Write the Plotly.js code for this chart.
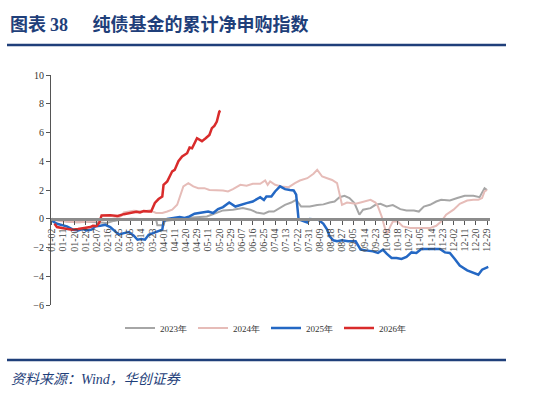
<!DOCTYPE html>
<html><head><meta charset="utf-8">
<script src="https://cdn.plot.ly/plotly-3.0.1.min.js"></script>
<style>html,body{margin:0;padding:0;background:#fff;}#chart{width:537px;height:402px;}</style>
</head><body><div id="chart"></div>
<script>
// tick labels (every 9th trading-day index)
const tickLabels = ["01-02","01-11","01-20","01-29","02-07","02-16","02-25","03-05","03-14","03-23",
 "04-01","04-11","04-20","04-29","05-11","05-20","05-29","06-07","06-16","06-25",
 "07-04","07-13","07-22","07-31","08-09","08-18","08-27","09-05","09-14","09-23",
 "10-09","10-18","10-27","11-05","11-14","11-23","12-02","12-11","12-20","12-29"];
const tickIdx = tickLabels.map((_, i) => i * 9);

// 2023
const x2023 = [0,5,12,20,28,36,44,50,56,64,72,80,84,85,90,91,96,100,106,111,125,133,138,146,154,160,165,171,175,179,184,188,193,197,201,208,214,219,224,228,232,236,240,244,248,251,257,261,265,270,275,281,286,292,296,300,305,310,314,321,327,333,340,345,349,351];
const y2023 = [0,-0.1,-0.2,-0.25,-0.2,-0.25,-0.3,-0.15,-0.05,0,-0.02,-0.05,-0.05,-0.45,-0.45,-0.15,-0.1,-0.05,-0.07,0.07,0.16,0.4,0.58,0.63,0.74,0.63,0.44,0.35,0.5,0.5,0.74,0.97,1.13,1.32,0.85,0.85,0.95,1.0,1.13,1.2,1.5,1.6,1.44,1.09,0.28,0.63,0.74,0.97,1.04,0.85,0.95,0.67,0.58,0.58,0.5,0.85,0.97,1.2,1.32,1.27,1.44,1.6,1.6,1.5,2.13,2.0];

// 2024
const x2024 = [0,6,14,22,30,38,46,52,56,58,66,74,79,84,89,93,97,101,103,106,110,114,118,123,127,133,138,142,146,152,157,162,168,172,174,176,180,185,191,196,200,206,211,214,218,222,226,230,232,234,238,245,249,257,261,263,266,268,270,273,275,279,283,289,300,305,310,314,318,324,329,335,340,344,347,349,351];
const y2024 = [-0.05,-0.15,-0.2,-0.25,-0.2,-0.15,-0.05,0.05,0.2,0.44,0.55,0.5,0.58,0.4,0.4,0.5,0.63,0.97,1.55,2.25,2.48,2.25,2.13,2.13,2.0,2.0,1.97,1.9,2.06,2.36,2.3,2.43,2.43,2.66,2.36,2.6,2.36,2.25,2.2,2.48,2.66,2.82,3.13,3.4,2.94,2.82,2.7,2.48,1.78,0.97,1.13,1.04,1.13,1.32,1.13,0.85,0.16,-0.53,-1.1,-0.53,-0.19,-0.19,-0.53,-0.65,-0.65,-0.65,-0.49,-0.19,0.28,0.63,1.04,1.27,1.32,1.32,1.44,1.9,2.0];

// 2025
const x2025 = [0,1,4,8,12,17,21,25,28,32,35,39,43,47,51,54,58,62,66,69,72,75,78,82,86,89,90,93,98,103,107,111,115,121,126,130,134,138,143,148,152,157,162,168,171,173,177,180,184,188,192,195,197,199,200,203,206,208,215,219,222,224,227,230,234,239,245,249,254,259,263,267,270,274,278,282,286,290,294,298,305,313,317,321,325,329,335,340,344,347,352];
const y2025 = [-0.07,-0.19,-0.35,-0.42,-0.53,-0.76,-0.81,-0.72,-0.81,-0.76,-0.53,-0.49,-0.42,-0.58,-0.88,-1.11,-1.0,-0.92,-1.18,-1.46,-1.41,-1.46,-1.11,-1.0,-0.88,-0.76,-0.19,-0.02,0.05,0.12,0.05,0.16,0.35,0.44,0.5,0.4,0.67,0.81,1.13,0.85,0.97,1.09,1.2,1.5,1.3,1.55,1.55,1.9,2.25,2.06,2.0,1.97,1.67,-0.07,-0.07,-0.19,-0.26,-0.02,-0.07,-0.35,-0.76,-1.23,-1.5,-1.57,-1.5,-1.57,-1.57,-2.15,-2.2,-2.27,-2.38,-2.15,-2.43,-2.73,-2.73,-2.8,-2.66,-2.34,-2.38,-2.1,-2.1,-2.1,-2.34,-2.38,-2.8,-3.26,-3.59,-3.73,-3.89,-3.54,-3.35];

// 2026
const x2026 = [2,4,8,12,16,21,27,31,33,36,38,40,47,53,58,63,68,71,74,78,80,83,86,89,90,93,97,99,102,105,109,111,113,117,121,124,127,129,131,133,135,136];
const y2026 = [-0.35,-0.58,-0.65,-0.72,-0.76,-0.72,-0.65,-0.58,-0.49,-0.5,-0.3,0.23,0.25,0.2,0.32,0.4,0.48,0.44,0.53,0.5,0.5,1.1,1.37,1.55,2.36,2.6,3.3,3.4,4.0,4.33,4.56,4.95,4.9,5.6,5.4,5.6,5.83,6.3,6.46,6.76,7.45,7.5];

const seriesNames = ["2023年","2024年","2025年","2026年"];
const colors = ["#a6a6a6","#e6bcb8","#2468c4","#d92b2b"];
const widths = [2,2,2.5,2.5];
const xs = [x2023,x2024,x2025,x2026];
const ys = [y2023,y2024,y2025,y2026];

const traces = seriesNames.map((n,i)=>({
  type:'scatter', mode:'lines', name:n, x:xs[i], y:ys[i],
  line:{color:colors[i], width:widths[i]}
}));

// pixel helpers for paper coordinates
const L=51, R=490, T=75, B=305;
const px = v => (v-L)/(R-L);
const py = v => (B-v)/(B-T);
const navy = "#1f3f7a";
const serif = '"Liberation Serif", "Times New Roman", serif';

const layout = {
  width:537, height:402,
  margin:{l:L, r:537-R, t:T, b:402-B},
  paper_bgcolor:'#fff', plot_bgcolor:'#fff',
  showlegend:true,
  font:{family:serif, color:'#333', size:10},
  xaxis:{
    range:[-0.8,353.4], anchor:'free', position:(B-219)/(B-T),
    tickmode:'array', tickvals:tickIdx, ticktext:tickLabels, tickangle:-90,
    showline:true, linecolor:'#8c8c8c', linewidth:2.5,
    ticks:'outside', ticklen:4, tickcolor:'#555', tickwidth:1,
    showgrid:false, zeroline:false,
    tickfont:{family:serif, size:10, color:'#444'}
  },
  yaxis:{
    range:[-6,10], dtick:2, tick0:0,
    showline:true, linecolor:'#555', linewidth:1,
    ticks:'outside', ticklen:4, tickcolor:'#555',
    showgrid:false, zeroline:false,
    tickfont:{family:serif, size:10, color:'#333'}
  },
  legend:{
    orientation:'h', x:px(266), xanchor:'center', y:py(328), yanchor:'middle',
    font:{family:serif, size:9, color:'#333'}, entrywidth:28, entrywidthmode:'pixels',
    bgcolor:'rgba(0,0,0,0)'
  },
  shapes:[
    {type:'line', xref:'paper', yref:'paper', x0:px(7), x1:px(506), y0:py(45), y1:py(45), line:{color:navy, width:2.5}},
    {type:'line', xref:'paper', yref:'paper', x0:px(7), x1:px(506), y0:py(360), y1:py(360), line:{color:navy, width:2.5}}
  ],
  annotations:[
    {xref:'paper', yref:'paper', x:px(8), y:py(23), xanchor:'left', yanchor:'middle', showarrow:false,
     text:'<b>图表 <span style="font-family:\'Liberation Serif\'">38</span>      纯债基金的累计净申购指数</b>',
     font:{family:'"Noto Sans CJK SC", sans-serif', size:18, color:navy}},
    {xref:'paper', yref:'paper', x:px(9), y:py(378), xanchor:'left', yanchor:'middle', showarrow:false,
     text:'<i>资料来源：<span style="font-family:\'Liberation Serif\'">Wind</span>，华创证券</i>',
     font:{family:'"Noto Sans CJK SC", "Liberation Serif", serif', size:14, color:navy}}
  ]
};

Plotly.newPlot('chart', traces, layout, {staticPlot:true, displayModeBar:false});
</script></body></html>
